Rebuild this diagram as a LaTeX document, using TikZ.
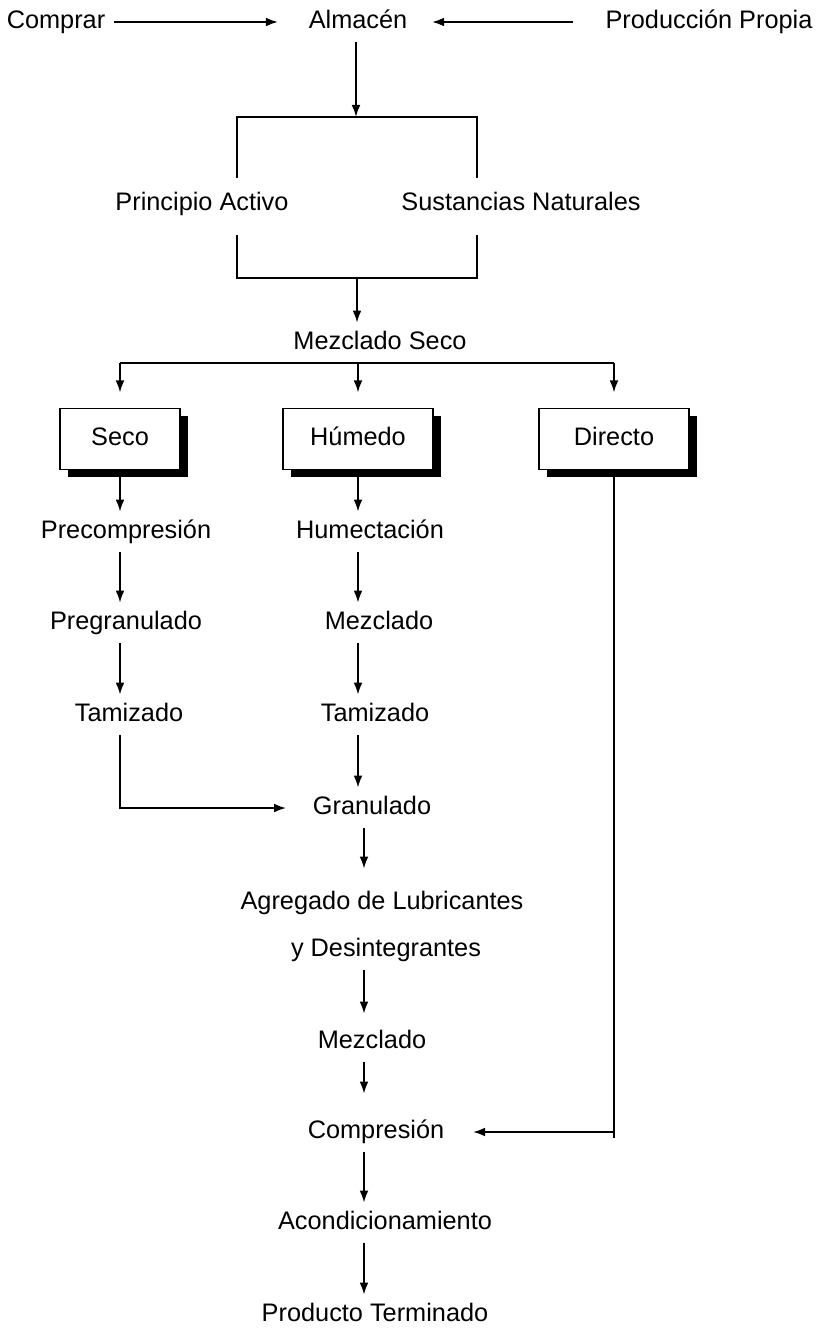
\documentclass[tikz,border=0pt]{standalone}
\usepackage{fontspec}
\setmainfont{Liberation Sans}
\usetikzlibrary{arrows.meta, shadows, positioning}

\begin{document}
\begin{tikzpicture}[
    x=0.025cm, y=-0.025cm,
    step text/.style={font=\fontsize{18}{22}\selectfont, inner sep=0pt, outer sep=0.22cm, text height=0.46cm, text depth=0.12cm},
    method box/.style={step text, draw, line width=1.1pt, fill=white, outer sep=0pt, minimum height=1.525cm,
        drop shadow={shadow xshift=0.2cm, shadow yshift=-0.19cm, fill=black, opacity=1}},
    link/.style={line width=1.3pt},
    flow/.style={link, -{Latex[length=0.3cm, width=0.22cm]}}
]
    \useasboundingbox (0,0) rectangle (818,1328);

    % Sources
    \node[step text] (comprar) at (56,22) {Comprar};
    \node[step text] (almacen) at (358,22) {Almacén};
    \node[step text] (propia) at (709,22) {Producción Propia};
    \draw[flow, shorten >=0.55cm] (comprar) -- (almacen);
    \draw[flow, shorten <=0.6cm, shorten >=0.4cm] (propia) -- (almacen);

    % Raw materials
    \coordinate (brtop) at (356,117);
    \coordinate (brbot) at (357,278);
    \node[step text] (activo) at (202,204) {Principio Activo};
    \node[step text] (naturales) at (521,204) {Sustancias Naturales};
    \draw[flow] (almacen.south -| brtop) -- (brtop);
    \draw[link] (237,178) |- (477,117) -- (477,178);
    \draw[link] (237,235) |- (477,278) -- (477,235);

    % Dry mixing and the three methods
    \node[step text] (mezseco) at (380,343) {Mezclado Seco};
    \draw[flow] (brbot) -- (brbot |- mezseco.north);
    \coordinate (split) at (358,363);
    \node[method box, minimum width=3cm] (seco) at (120,439) {Seco};
    \node[method box, minimum width=3.75cm] (humedo) at (358,439) {Húmedo};
    \node[method box, minimum width=3.75cm] (directo) at (614,439) {Directo};
    \draw[link] (seco.north |- split) -- (directo.north |- split);
    \foreach \b in {seco, humedo, directo} {
        \draw[flow, shorten >=0.4cm] (\b.north |- split) -- (\b.north);
    }

    % Dry granulation
    \node[step text] (precomp) at (126,532) {Precompresión};
    \node[step text] (pregran) at (126,623) {Pregranulado};
    \node[step text] (tamizS) at (129,715) {Tamizado};
    \draw[flow] (seco.south) -- (seco.south |- precomp.north);
    \draw[flow] (precomp.south -| seco.south) -- (seco.south |- pregran.north);
    \draw[flow] (pregran.south -| seco.south) -- (seco.south |- tamizS.north);

    % Wet granulation
    \node[step text] (humect) at (370,532) {Humectación};
    \node[step text] (mezH) at (379,623) {Mezclado};
    \node[step text] (tamizH) at (375,715) {Tamizado};
    \node[step text] (granulado) at (372,808) {Granulado};
    \draw[flow] (humedo.south) -- (humedo.south |- humect.north);
    \draw[flow] (humect.south -| humedo.south) -- (humedo.south |- mezH.north);
    \draw[flow] (mezH.south -| humedo.south) -- (humedo.south |- tamizH.north);
    \draw[flow] (tamizH.south -| humedo.south) -- (humedo.south |- granulado.north);
    \draw[flow, shorten >=0.45cm] (tamizS.south -| seco.south) |- (granulado.west);

    % Common steps
    \coordinate (maincol) at (364,0);
    \node[step text] (agregado) at (382,903) {Agregado de Lubricantes};
    \node[step text] (desint) at (386,950) {y Desintegrantes};
    \node[step text] (mezF) at (372,1042) {Mezclado};
    \node[step text] (compresion) at (376,1132) {Compresión};
    \node[step text] (acond) at (385,1223) {Acondicionamiento};
    \node[step text] (producto) at (375,1315) {Producto Terminado};
    \draw[flow, shorten >=0.35cm] (granulado.south -| maincol) -- (maincol |- agregado.north);
    \draw[flow, shorten >=0.2cm] (desint.south -| maincol) -- (maincol |- mezF.north);
    \draw[flow, shorten >=0.45cm] (mezF.south -| maincol) -- (maincol |- compresion.north);
    \draw[flow] (compresion.south -| maincol) -- (maincol |- acond.north);
    \draw[flow] (acond.south -| maincol) -- (maincol |- producto.north);

    % Direct compression
    \coordinate (dirend) at (614,1138);
    \draw[link] (directo.south) -- (dirend);
    \draw[flow, shorten >=0.5cm] (directo.south |- compresion) -- (compresion.east);
\end{tikzpicture}
\end{document}
